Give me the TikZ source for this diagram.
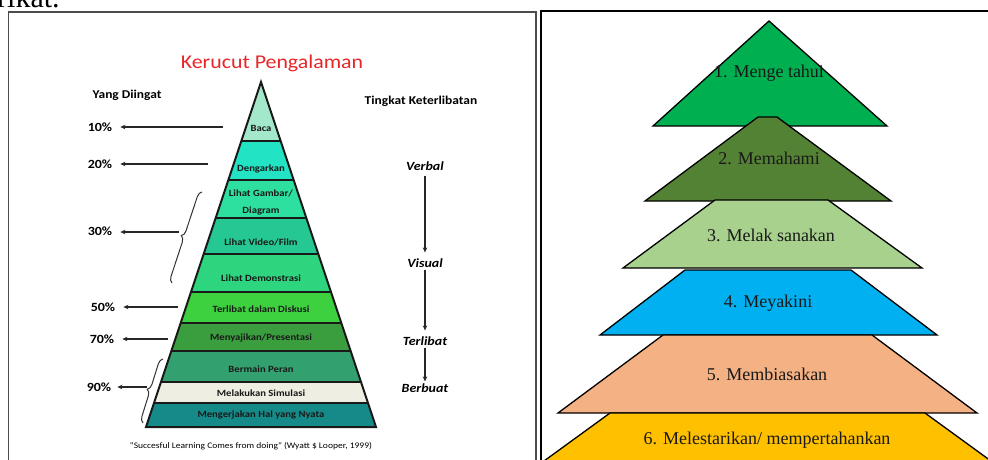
\documentclass[tikz,border=0pt]{standalone}
\usepackage{fontspec}
\setmainfont{Liberation Serif}
\newfontfamily\calfont[FakeStretch=1.12]{Carlito}
\usetikzlibrary{arrows.meta,decorations.pathreplacing}
\definecolor{cbaca}{HTML}{A4E8CC}
\definecolor{cdeng}{HTML}{22E3C4}
\definecolor{cgamb}{HTML}{2EE0A0}
\definecolor{cvid}{HTML}{25C892}
\definecolor{cdemo}{HTML}{2DD67E}
\definecolor{cdisk}{HTML}{3DD13F}
\definecolor{cmeny}{HTML}{3A9E3E}
\definecolor{cberm}{HTML}{33A070}
\definecolor{csim}{HTML}{EEEEE2}
\definecolor{cmeng}{HTML}{168A88}
\definecolor{ctitle}{HTML}{E8262A}
\definecolor{rA}{HTML}{00B050}
\definecolor{rB}{HTML}{548235}
\definecolor{rC}{HTML}{A9D18E}
\definecolor{rD}{HTML}{00B0F0}
\definecolor{rE}{HTML}{F4B183}
\definecolor{rF}{HTML}{FFC000}
\newcommand\pyrlayer[3]{\fill[#3] ({261-(#1-82)/3},#1) -- ({261+(#1-82)/3},#1) -- ({261+(#2-82)/3},#2) -- ({261-(#2-82)/3},#2) -- cycle;}
\begin{document}
\begin{tikzpicture}[x=1pt,y=-1pt,
  layertext/.style={font=\calfont\bfseries\fontsize{9.5}{17}\selectfont, text=black!90, inner sep=0pt, align=center},
  headtext/.style={font=\calfont\bfseries\fontsize{12}{12}\selectfont, inner sep=0pt},
  pcttext/.style={font=\calfont\bfseries\fontsize{12.5}{12.5}\selectfont, inner sep=0pt},
  lvltext/.style={font=\calfont\bfseries\itshape\fontsize{12.5}{12.5}\selectfont, inner sep=0pt},
  larrow/.style={-{Stealth[length=5pt,width=4.5pt]}, line width=1.3pt, black!85},
  bracestyle/.style={decorate, decoration={brace, amplitude=6pt}, line width=1pt, black!80},
  stairtext/.style={font=\fontsize{18}{18}\selectfont, text=black!90, inner sep=0pt},
  stairshape/.style={draw=black, line width=1.3pt, line join=miter}
]
\useasboundingbox (0,0) rectangle (988,459);
\clip (0,0) rectangle (988,459);
\fill[white] (0,0) rectangle (988,459);

% partial text at top (cut off in the reference too)
\node[anchor=base west, font=\fontsize{30}{30}\selectfont, inner sep=0pt] (rik) at (-3,7) {rikat.};

% frames
\draw[gray!60!black, line width=1.5pt] (8.5,470) -- (8.5,12) -- (536,12) -- (536,470);
\draw[black, line width=2pt] (541,470) -- (541,11) -- (1000,11);

% ---------- left: cone of experience ----------
\node[font=\calfont\fontsize{19.5}{20}\selectfont, text=ctitle, inner sep=0pt] (title) at (272,63) {Kerucut Pengalaman};

\pyrlayer{82}{141}{cbaca}
\pyrlayer{141}{180}{cdeng}
\pyrlayer{180}{218}{cgamb}
\pyrlayer{218}{254}{cvid}
\pyrlayer{254}{292}{cdemo}
\pyrlayer{292}{323}{cdisk}
\pyrlayer{323}{351}{cmeny}
\pyrlayer{351}{382}{cberm}
\pyrlayer{382}{403}{csim}
\pyrlayer{403}{427}{cmeng}
\foreach \yy in {141,180,218,254,292,323,351,382,403}
  \draw[line width=2pt, black!90] ({261-(\yy-82)/3},\yy) -- ({261+(\yy-82)/3},\yy);
\draw[line width=2pt, black!90, line join=miter] (261,82) -- (146,427) -- (376,427) -- cycle;

\node[layertext] (l1) at (261,128) {Baca};
\node[layertext] (l2) at (261,169) {Dengarkan};
\node[layertext] (l3) at (261,202.5) {Lihat Gambar/\\Diagram};
\node[layertext] (l4) at (261,242) {Lihat Video/Film};
\node[layertext] (l5) at (261,278) {Lihat Demonstrasi};
\node[layertext] (l6) at (261,309) {Terlibat dalam Diskusi};
\node[layertext] (l7) at (261,338) {Menyajikan/Presentasi};
\node[layertext] (l8) at (261,369) {Bermain Peran};
\node[layertext] (l9) at (261,393) {Melakukan Simulasi};
\node[layertext] (l10) at (261,415) {Mengerjakan Hal yang Nyata};

\node[headtext] (yd) at (127,95) {Yang Diingat};
\node[headtext] (tk) at (421,101) {Tingkat Keterlibatan};

% percentages
\node[pcttext] (p10) at (100,127) {10\%};
\node[pcttext] (p20) at (100,164) {20\%};
\node[pcttext] (p30) at (100,231) {30\%};
\node[pcttext] (p50) at (103,307) {50\%};
\node[pcttext] (p70) at (102,339) {70\%};
\node[pcttext] (p90) at (99,387) {90\%};

\coordinate (a10) at (223,127);
\coordinate (a20) at (208,164);
\coordinate (a30) at (179,232);
\coordinate (a50) at (178,307);
\coordinate (a70) at (168,339);
\coordinate (a90) at (147,387);

\draw[bracestyle] (172,283) -- (202,192);
\draw[bracestyle] (143,423) -- (163,359);

\draw[larrow, shorten >=8pt] (a10) -- (p10.east |- a10);
\draw[larrow, shorten >=8pt] (a20) -- (p20.east |- a20);
\draw[larrow, shorten >=8pt] (a30) -- (p30.east |- a30);
\draw[larrow, shorten >=8pt] (a50) -- (p50.east |- a50);
\draw[larrow, shorten >=8pt] (a70) -- (p70.east |- a70);
\draw[larrow, shorten >=6pt] (a90) -- (p90.east |- a90);

% levels of involvement
\node[lvltext] (verbal) at (425,166) {Verbal};
\node[lvltext] (visual) at (425,263) {Visual};
\node[lvltext] (terlibat) at (425,341) {Terlibat};
\node[lvltext] (berbuat) at (425,388) {Berbuat};
\draw[larrow, shorten <=5pt, shorten >=6pt] (verbal) -- (visual);
\draw[larrow, shorten <=2pt, shorten >=6pt] (visual) -- (terlibat);
\draw[larrow, shorten <=2pt, shorten >=2pt] (terlibat) -- (berbuat);

\node[font=\calfont\fontsize{8.5}{8.5}\selectfont, inner sep=0pt] (cap) at (251,446) {"Succesful Learning Comes from doing" (Wyatt \$ Looper, 1999)};

% ---------- right: stairs ----------
\filldraw[stairshape, fill=rA] (769,21) -- (887,126) -- (653,126) -- cycle;
\filldraw[stairshape, fill=rB] (758,117) -- (777,117) -- (891,201) -- (645,201) -- cycle;
\filldraw[stairshape, fill=rC] (715,200) -- (828,200) -- (922,268) -- (623,268) -- cycle;
\filldraw[stairshape, fill=rD] (685,270) -- (851,270) -- (937,335) -- (600,335) -- cycle;
\filldraw[stairshape, fill=rE] (663,335) -- (872,335) -- (977,413) -- (558,413) -- cycle;
\filldraw[stairshape, fill=rF] (610,413) -- (925,413) -- (1002,469) -- (533,469) -- cycle;

\node[stairtext] (s1) at (769,73) {1. Menge tahui};
\node[stairtext] (s2) at (769,158) {2. Memahami};
\node[stairtext] (s3) at (771,235) {3. Melak sanakan};
\node[stairtext] (s4) at (768,303) {4. Meyakini};
\node[stairtext] (s5) at (767,374) {5. Membiasakan};
\node[stairtext] (s6) at (767,440) {6. Melestarikan/ mempertahankan};
\end{tikzpicture}
\end{document}
